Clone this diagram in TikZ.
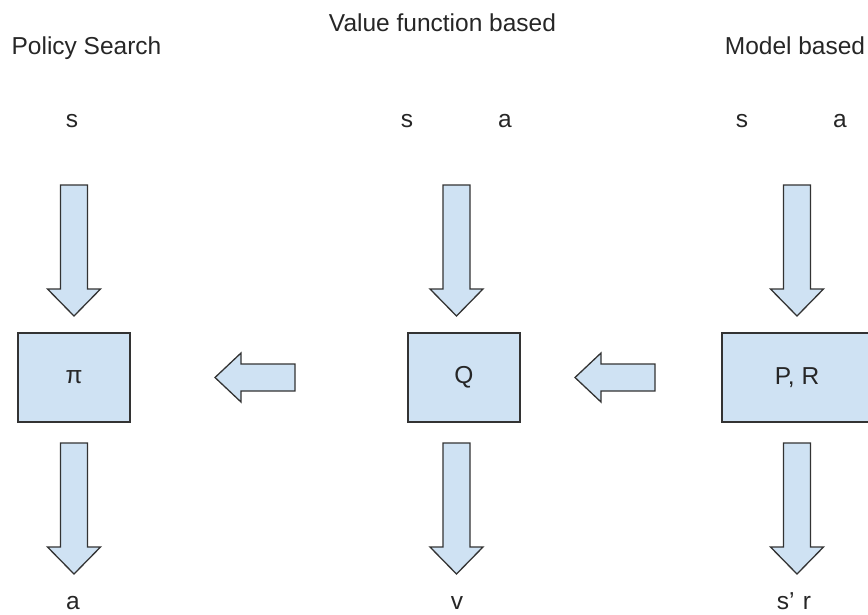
\documentclass[tikz,border=0pt]{standalone}
\usepackage{fontspec}
\setmainfont{Liberation Sans}
\definecolor{boxblue}{HTML}{CFE2F3}
\begin{document}
\begin{tikzpicture}[x=1pt,y=-1pt,
  lbl/.style={font=\fontsize{24.5}{28}\selectfont, inner sep=0pt, anchor=base, text=black!85},
  boxtxt/.style={font=\fontsize{24.5}{28}\selectfont, text=black!85},
  box/.style={draw=black!80, line width=1.3pt, fill=boxblue, minimum height=89pt, inner sep=0pt},
  blk/.style={draw=black!80, line width=1.3pt, fill=boxblue, line join=miter},
  downarr/.pic={\draw[blk] (-13.5,0) -- (13.5,0) -- (13.5,104) -- (26.5,104) -- (0,131) -- (-26.5,104) -- (-13.5,104) -- cycle;},
  leftarr/.pic={\draw[blk] (0,-13.5) -- (-54,-13.5) -- (-54,-24.5) -- (-80,0) -- (-54,24.5) -- (-54,13.5) -- (0,13.5) -- cycle;}]
\useasboundingbox (0,0) rectangle (868,614);
\clip (0,0) rectangle (868,614);
% titles
\node[lbl] (tps) at (86.5,54) {Policy Search};
\node[lbl] (tvf) at (442.5,31.5) {Value function based};
\node[lbl] (tmb) at (795,54) {Model based};
% inputs
\node[lbl] (s1) at (72,127) {s};
\node[lbl] (s2) at (407,127) {s};
\node[lbl] (a2) at (505,127) {a};
\node[lbl] (s3) at (742,127) {s};
\node[lbl] (a3) at (840,127) {a};
% boxes
\node[box, boxtxt, minimum width=112pt] (pi) at (74,377.5) {π};
\node[box, boxtxt, minimum width=112pt] (Q) at (464,377.5) {Q};
\node[box, boxtxt, minimum width=150pt] (PR) at (797,377.5) {P, R};
% outputs
\node[lbl] (a1) at (73,609.5) {a};
\node[lbl] (v2) at (457,609.5) {v};
\node[lbl] (sr3) at (794,609.5) {s\char"27\,\,r};
% block arrows
\pic at (74,185) {downarr};
\pic at (456.5,185) {downarr};
\pic at (797,185) {downarr};
\pic at (74,443) {downarr};
\pic at (456.5,443) {downarr};
\pic at (797,443) {downarr};
\pic at (295,377.5) {leftarr};
\pic at (655,377.5) {leftarr};
\end{tikzpicture}
\end{document}
